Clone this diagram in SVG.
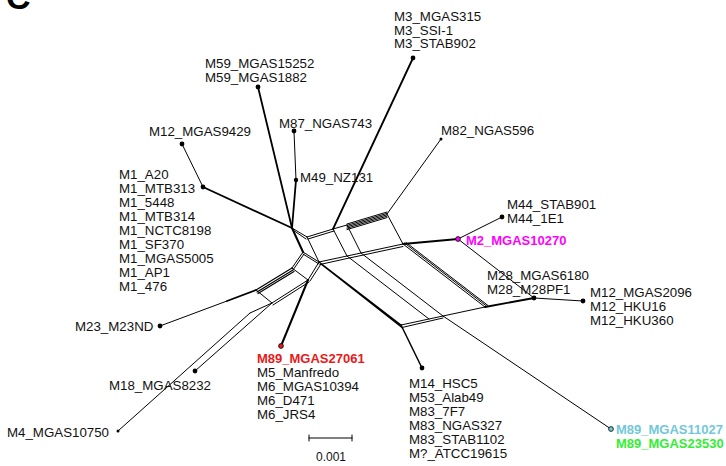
<svg xmlns="http://www.w3.org/2000/svg" width="726" height="466" viewBox="0 0 726 466">
  <style>
    text { font-family: "Liberation Sans", Arial, sans-serif; font-size: 13.3px; fill: #111; }
    .b { font-weight: bold; font-size: 13px; }
    .panel { font-weight: bold; font-size: 34px; fill: #000; }
    .e { fill: none; stroke: #000; stroke-width: 1; stroke-linecap: round; stroke-linejoin: round; }
    .w { stroke-width: 1.8; }
    .dot { fill: #000; }
  </style>
  <rect width="726" height="466" fill="#fff"/>
  <text class="panel" x="6" y="9">C</text>

  <!-- split network edges -->
  <g id="connectors">
    <!-- pendant edges -->
    <path class="e w" d="M292,228 L258,87"/>
    <path class="e w" d="M292,228 L296,180"/>
    <path class="e" d="M296,180 L294,131"/>
    <path class="e w" d="M292,228 L203,187"/>
    <path class="e" d="M203,187 L182,144"/>
    <path class="e w" d="M333,229 L413,58"/>
    <path class="e" d="M387,214 L441,139"/>
    <path class="e w" d="M403,244 L458,239"/>
    <path class="e" d="M458,239 L502,217"/>
    <path class="e" d="M458,239 L534,298"/>
    <path class="e w" d="M485,307 L534,298"/>
    <path class="e" d="M534,298 L583,301"/>
    <path class="e" d="M401,325 L422,368" style="stroke-width:1.5"/>
    <path class="e" d="M443,316 L611,429"/>
    <path class="e" d="M256,290 L227,301" style="stroke-width:1.8"/>
    <path class="e" d="M227,301 L160,326"/>
    <path class="e" d="M272,303 L195,371"/>
    <path class="e" d="M250,313 L118,431"/>
    <path class="e" d="M308,280 L281,346" style="stroke-width:2"/>

    <!-- central box -->
    <path class="e" d="M292,228 L307,237 M293,230 L306,239"/>
    <path class="e" d="M292,228 L303,252" style="stroke-width:2"/>
    <path class="e" d="M307,237 L319,262"/>
    <path class="e" d="M303,252 L319,262 M303,254 L319,264"/>

    <!-- upper ladder -->
    <path class="e" d="M307,237 L333,229 M308,239 L334,231"/>
    <path class="e" d="M333,229 L347,225"/>
    <path class="e" d="M347,224 L387,212 M347,225.4 L387,213.4 M347,226.8 L387,214.8 M347,228.2 L387,216.2 M347,229.6 L387,217.6"/>
    <path class="e" d="M333,229 L347,256"/>
    <path class="e" d="M347,225 L361,253"/>
    <path class="e" d="M387,214 L403,244"/>

    <!-- middle ladder -->
    <path class="e" d="M319,262 L347,256 L361,253 L403,244"/>
    <path class="e" d="M320,264.5 L347,258.5 L361,255.5 L403,246.5"/>

    <!-- long diagonals -->
    <path class="e" d="M319,262 L401,325 M321,264 L402,327.5" style="stroke-width:1.3"/>
    <path class="e" d="M347,256 L429,319"/>
    <path class="e" d="M361,253 L443,316"/>
    <path class="e" d="M403,244 L485,307 M404.5,243 L486.5,306 M406,242.5 L488,305.5"/>

    <!-- lower ladder -->
    <path class="e" d="M401,325 L429,319 L443,316 L485,307"/>
    <path class="e" d="M402,327.5 L430,321 L443,318"/>

    <!-- left ladder -->
    <path class="e" d="M303,252 L292,268 M304,254 L293,270"/>
    <path class="e" d="M319,262 L308,280 M321,264 L310,281"/>
    <path class="e" d="M292,268 L308,280"/>
    <path class="e" d="M292,268 L256,290 M293,270 L257,292 M294,271.5 L258,293.5" style="stroke-width:1.2"/>
    <path class="e" d="M308,280 L272,303 M309,282 L273,305"/>
    <path class="e" d="M256,290 L272,303"/>
    <path class="e" d="M272,303 L250,313"/>
  </g>

  <!-- taxa -->
  <g id="m3">
    <circle class="dot" cx="413" cy="58" r="2.4"/>
    <text x="394" y="21">M3_MGAS315</text>
    <text x="394" y="34.5">M3_SSI-1</text>
    <text x="394" y="48">M3_STAB902</text>
  </g>
  <g id="m59">
    <circle class="dot" cx="258" cy="87" r="2.4"/>
    <text x="205" y="68">M59_MGAS15252</text>
    <text x="205" y="82">M59_MGAS1882</text>
  </g>
  <g id="m87">
    <circle class="dot" cx="294" cy="131" r="2.4"/>
    <text x="279" y="128">M87_NGAS743</text>
  </g>
  <g id="m49">
    <circle class="dot" cx="296" cy="180" r="2.2"/>
    <text x="300" y="182">M49_NZ131</text>
  </g>
  <g id="m12-9429">
    <circle class="dot" cx="182" cy="144" r="2.4"/>
    <text x="149" y="136">M12_MGAS9429</text>
  </g>
  <g id="m1">
    <circle class="dot" cx="203" cy="187" r="2.4"/>
    <text x="119" y="179">M1_A20</text>
    <text x="119" y="193">M1_MTB313</text>
    <text x="119" y="207">M1_5448</text>
    <text x="119" y="221">M1_MTB314</text>
    <text x="119" y="235">M1_NCTC8198</text>
    <text x="119" y="249">M1_SF370</text>
    <text x="119" y="263">M1_MGAS5005</text>
    <text x="119" y="277">M1_AP1</text>
    <text x="119" y="291">M1_476</text>
  </g>
  <g id="m82">
    <circle class="dot" cx="441" cy="139" r="1.5"/>
    <text x="441" y="135">M82_NGAS596</text>
  </g>
  <g id="m44">
    <circle class="dot" cx="502" cy="217" r="2.4"/>
    <text x="507" y="209">M44_STAB901</text>
    <text x="507" y="223">M44_1E1</text>
  </g>
  <g id="m2">
    <circle cx="458" cy="239" r="2.4" fill="#ff00ff" stroke="#000" stroke-width="0.8"/>
    <text class="b" x="466" y="245" style="fill:#ff00ff">M2_MGAS10270</text>
  </g>
  <g id="m28">
    <circle class="dot" cx="534" cy="298" r="2.4"/>
    <text x="487" y="280">M28_MGAS6180</text>
    <text x="487" y="294">M28_M28PF1</text>
  </g>
  <g id="m12-2096">
    <circle class="dot" cx="583" cy="301" r="2.4"/>
    <text x="590" y="297">M12_MGAS2096</text>
    <text x="590" y="311">M12_HKU16</text>
    <text x="590" y="325">M12_HKU360</text>
  </g>
  <g id="m89-11027">
    <circle cx="611" cy="429" r="2.4" fill="#6ec9d9" stroke="#000" stroke-width="0.8"/>
    <text class="b" x="616" y="434" style="fill:#72c8d8">M89_MGAS11027</text>
    <text class="b" x="616" y="448" style="fill:#33ee33">M89_MGAS23530</text>
  </g>
  <g id="m14">
    <circle class="dot" cx="422" cy="368" r="2.4"/>
    <text x="409" y="388">M14_HSC5</text>
    <text x="409" y="402">M53_Alab49</text>
    <text x="409" y="416">M83_7F7</text>
    <text x="409" y="430">M83_NGAS327</text>
    <text x="409" y="444">M83_STAB1102</text>
    <text x="409" y="458">M?_ATCC19615</text>
  </g>
  <g id="m89-27061">
    <circle cx="281" cy="346" r="2.4" fill="#e8191a" stroke="#000" stroke-width="0.8"/>
    <text class="b" x="257" y="363" style="fill:#e8191a">M89_MGAS27061</text>
    <text x="257" y="377">M5_Manfredo</text>
    <text x="257" y="391">M6_MGAS10394</text>
    <text x="257" y="405">M6_D471</text>
    <text x="257" y="419">M6_JRS4</text>
  </g>
  <g id="m18">
    <circle class="dot" cx="195" cy="371" r="2.4"/>
    <text x="109" y="390">M18_MGAS8232</text>
  </g>
  <g id="m23">
    <circle class="dot" cx="160" cy="326" r="2.4"/>
    <text x="75" y="331">M23_M23ND</text>
  </g>
  <g id="m4">
    <circle class="dot" cx="118" cy="431" r="1.5"/>
    <text x="7" y="437">M4_MGAS10750</text>
  </g>

  <!-- scale bar -->
  <g id="scale">
    <path class="e" d="M309,438 L352,438 M309,435 L309,441 M352,435 L352,441"/>
    <text x="331" y="461" text-anchor="middle" style="font-size:12px">0.001</text>
  </g>
</svg>
